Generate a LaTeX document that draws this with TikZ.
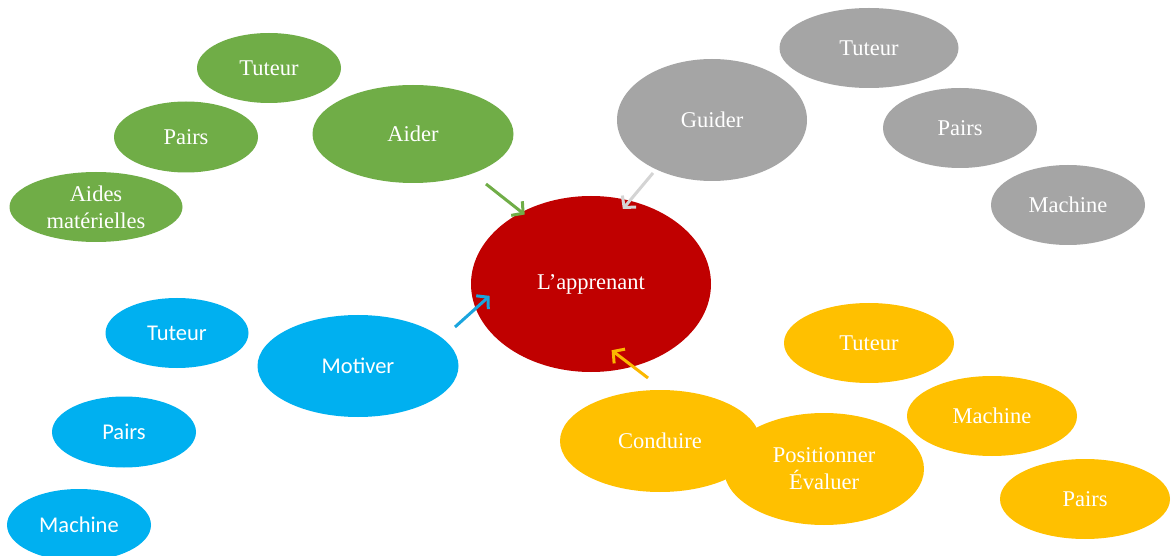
\documentclass[tikz,border=0pt]{standalone}
\usepackage{fontspec}
\setmainfont{Liberation Serif}
\newfontfamily\calib{Carlito}
\usetikzlibrary{shapes.geometric,arrows.meta}
\definecolor{cgreen}{HTML}{70AD47}
\definecolor{cgray}{HTML}{A5A5A5}
\definecolor{cred}{HTML}{C00000}
\definecolor{cblue}{HTML}{00B0F0}
\definecolor{cyellow}{HTML}{FFC000}
\definecolor{agray}{HTML}{D4D4D4}
\definecolor{ablue}{HTML}{1AA5DE}
\definecolor{ayellow}{HTML}{FBB800}
\tikzset{
  bub/.style args={#1/#2}{ellipse, inner sep=0pt, minimum width=#1pt, minimum height=#2pt,
    text=white, align=center, font=\fontsize{22.5}{27}\selectfont},
  gbub/.style={bub=#1, fill=cgreen},
  ybub/.style={bub=#1, fill=cgray},
  rbub/.style={bub=#1, fill=cred},
  bbub/.style={bub=#1, fill=cblue, font=\calib\fontsize{22.5}{27}\selectfont},
  obub/.style={bub=#1, fill=cyellow},
  conn/.style={line width=3pt, -{Straight Barb[length=8pt,width=18pt,line width=3pt]}}
}
\begin{document}
\begin{tikzpicture}[x=1pt,y=-1pt]
\useasboundingbox (0,0) rectangle (1171,556);
\clip (0,0) rectangle (1171,556);
\fill[white] (0,0) rectangle (1171,556);
% green
\node[gbub=144/70] (gtut) at (269,68) {Tuteur};
\node[gbub=144/71] (gpai) at (186,137) {Pairs};
\node[gbub=201/98] (aider) at (413,134) {Aider};
\node[gbub=173/70] (gaid) at (96,207) {Aides\\matérielles};
% gray
\node[ybub=190/122] (guider) at (712,120) {Guider};
\node[ybub=179/80] (ytut) at (869,48) {Tuteur};
\node[ybub=154/80] (ypai) at (960,128) {Pairs};
\node[ybub=154/80] (ymac) at (1068,205) {Machine};
% blue
\node[bbub=143/70] (btut) at (177,333) {Tuteur};
\node[bbub=201/102] (motiver) at (358,366) {Motiver};
\node[bbub=144/71] (bpai) at (124,432) {Pairs};
\node[bbub=144/72] (bmac) at (79,525) {Machine};
% yellow
\node[obub=170/80] (otut) at (869,343) {Tuteur};
\node[obub=170/80] (omac) at (992,416) {Machine};
\node[obub=170/80] (opai) at (1085,499) {Pairs};
\node[obub=200/102] (conduire) at (660,441) {Conduire};
\node[obub=200/112] (posit) at (824,469) {Positionner\\Évaluer};
% center
\node[rbub=240/176] (app) at (591,284) {L’apprenant};
% arrows
\coordinate (sg) at (486,184);
\coordinate (sy) at (653,173);
\coordinate (sb) at (455,327);
\coordinate (so) at (648,378);
\draw[conn, cgreen, shorten >=-4pt] (sg) -- (app.134.6);
\draw[conn, agray, shorten >=-11pt] (sy) -- (app.65.3);
\draw[conn, ablue, shorten >=-19pt] (sb) -- (app.192.3);
\draw[conn, ayellow, shorten >=-27pt] (so) -- (app.297.4);
\end{tikzpicture}
\end{document}
